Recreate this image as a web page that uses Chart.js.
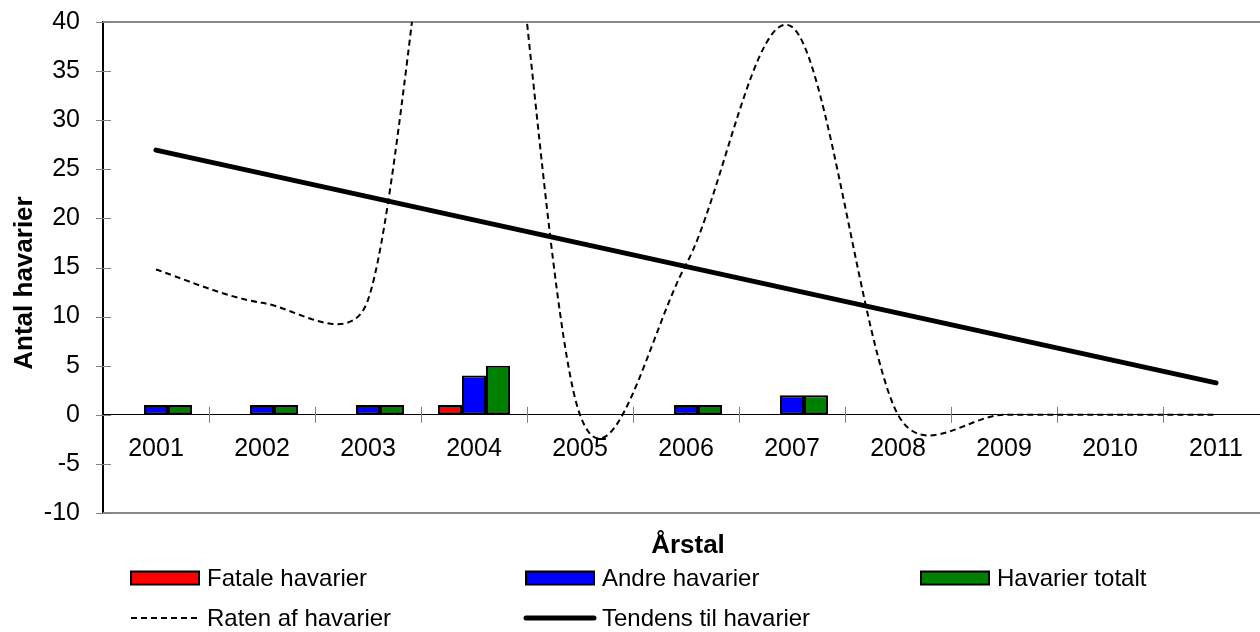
<!DOCTYPE html>
<html>
<head>
<meta charset="utf-8">
<title>Havarier 2001-2011</title>
<script src="https://cdn.jsdelivr.net/npm/chart.js@4.4.0/dist/chart.umd.min.js"></script>
<style>
    html, body { margin: 0; padding: 0; overflow: hidden; background: #fff; }
    #wrap { width: 1270px; height: 632px; }
</style>
</head>
<body>
<div id="wrap"><canvas id="havariChart"></canvas></div>
<script>
const years = ['2001', '2002', '2003', '2004', '2005', '2006', '2007', '2008', '2009', '2010', '2011'];
const fatale = [0, 0, 0, 1, 0, 0, 0, 0, 0, 0, 0];
const andre = [1, 1, 1, 4, 0, 1, 2, 0, 0, 0, 0];
const totalt = [1, 1, 1, 5, 0, 1, 2, 0, 0, 0, 0];
const raten = [14.8, 11.4, 11.7, 74, 0, 15.3, 39.5, 0, 0, 0, 0];
// trend line: only the two end values, drawn straight with spanGaps
const tendens = [26.95, null, null, null, null, null, null, null, null, null, 3.25];

const yMin = -10;
const yMax = 40;
const yStep = 5;

const FONT = "'Liberation Sans', Arial, sans-serif";

// Excel style smoothing (1/6 tangents, capped at half the segment)
const excelSmooth = {
    id: 'excelSmooth',
    beforeDatasetDraw(chart, args) {
        const ds = chart.data.datasets[args.index];
        if (!ds.excelSmooth) return;
        const pts = args.meta.data;
        const dist = (a, b) => Math.hypot(b.x - a.x, b.y - a.y);
        for (let i = 0; i < pts.length - 1; i++) {
            const p0 = pts[i - 1] || pts[i];
            const p1 = pts[i];
            const p2 = pts[i + 1];
            const p3 = pts[i + 2] || pts[i + 1];
            const d02 = dist(p0, p2), d12 = dist(p1, p2), d13 = dist(p1, p3);
            const f1 = (d02 / 6 < d12 / 2) ? 1 / 6 : d12 / (2 * d02);
            const f2 = (d13 / 6 < d12 / 2) ? 1 / 6 : d12 / (2 * d13);
            p1.cp2x = p1.x + (p2.x - p0.x) * f1;
            p1.cp2y = p1.y + (p2.y - p0.y) * f1;
            p2.cp1x = p2.x - (p3.x - p1.x) * f2;
            p2.cp1y = p2.y - (p3.y - p1.y) * f2;
        }
        args.meta.dataset._pointsUpdated = true;
    }
};

// plot frame and the tick marks that cross the axes
const frame = {
    id: 'frame',
    beforeDatasetsDraw(chart) {
        const {ctx, chartArea: a, scales: {x, y}} = chart;
        ctx.save();
        ctx.strokeStyle = '#888';
        ctx.lineWidth = 2;
        ctx.beginPath();
        ctx.moveTo(a.left, a.top);
        ctx.lineTo(a.right, a.top);
        ctx.lineTo(a.right, a.bottom);
        ctx.lineTo(a.left, a.bottom);
        ctx.stroke();

        ctx.strokeStyle = '#808080';
        ctx.lineWidth = 1;
        ctx.beginPath();
        for (let v = yMin; v <= yMax; v += yStep) {
            const py = Math.round(y.getPixelForValue(v)) + 0.5;
            ctx.moveTo(a.left - 7, py);
            ctx.lineTo(a.left + 8, py);
        }
        const y0 = y.getPixelForValue(0);
        for (let i = 1; i <= years.length; i++) {
            const px = Math.round(x.getPixelForValue(i - 0.5)) + 0.5;
            ctx.moveTo(px, y0 - 8);
            ctx.lineTo(px, y0 + 8);
        }
        ctx.stroke();
        ctx.restore();
    }
};

// axis titles and the legend grid under the plot
const titlesAndLegend = {
    id: 'titlesAndLegend',
    afterDraw(chart) {
        const {ctx, chartArea: a} = chart;
        ctx.save();
        ctx.fillStyle = '#000';
        ctx.font = 'bold 26px ' + FONT;
        ctx.textAlign = 'center';
        ctx.textBaseline = 'alphabetic';
        ctx.fillText('Årstal', (a.left + a.right) / 2 + 2, 553);

        ctx.save();
        ctx.translate(32, 283);
        ctx.rotate(-Math.PI / 2);
        ctx.fillText('Antal havarier', 0, 0);
        ctx.restore();

        const cols = [131, 526, 921];
        const rows = [578, 618];
        const slots = [[0, 0], [1, 0], [2, 0], [0, 1], [1, 1]];
        ctx.font = '24px ' + FONT;
        ctx.textAlign = 'left';
        ctx.textBaseline = 'middle';
        chart.data.datasets.forEach((ds, i) => {
            const lx = cols[slots[i][0]];
            const ly = rows[slots[i][1]];
            if (ds.type === 'bar') {
                ctx.fillStyle = ds.backgroundColor;
                ctx.fillRect(lx, ly - 6.5, 68, 13);
                ctx.strokeStyle = ds.borderColor;
                ctx.lineWidth = 2;
                ctx.strokeRect(lx, ly - 6.5, 68, 13);
            } else {
                ctx.strokeStyle = ds.borderColor;
                ctx.lineWidth = ds.borderWidth;
                ctx.lineCap = ds.borderCapStyle || 'butt';
                ctx.setLineDash(ds.borderDash || []);
                ctx.beginPath();
                ctx.moveTo(lx, ly);
                ctx.lineTo(lx + 68, ly);
                ctx.stroke();
                ctx.setLineDash([]);
                ctx.lineCap = 'butt';
            }
            ctx.fillStyle = '#000';
            ctx.fillText(ds.label, lx + 76, ly + 1);
        });
        ctx.restore();
    }
};

const ctx = document.getElementById('havariChart').getContext('2d');
const havariChart = new Chart(ctx, {
    type: 'bar',
    data: {
        labels: years,
        datasets: [
            {
                type: 'bar',
                label: 'Fatale havarier',
                data: fatale,
                backgroundColor: '#FF0000',
                borderColor: '#000',
                borderWidth: 2,
                borderSkipped: false,
                order: 2
            },
            {
                type: 'bar',
                label: 'Andre havarier',
                data: andre,
                backgroundColor: '#0000FF',
                borderColor: '#000',
                borderWidth: 2,
                borderSkipped: false,
                order: 2
            },
            {
                type: 'bar',
                label: 'Havarier totalt',
                data: totalt,
                backgroundColor: '#008000',
                borderColor: '#000',
                borderWidth: 2,
                borderSkipped: false,
                order: 2
            },
            {
                type: 'line',
                label: 'Raten af havarier',
                data: raten,
                borderColor: '#000',
                borderWidth: 2,
                borderDash: [6, 4],
                pointRadius: 0,
                tension: 0.4,
                excelSmooth: true,
                order: 1
            },
            {
                type: 'line',
                label: 'Tendens til havarier',
                data: tendens,
                borderColor: '#000',
                borderWidth: 5,
                borderCapStyle: 'round',
                pointRadius: 0,
                spanGaps: true,
                tension: 0,
                order: 1
            }
        ]
    },
    options: {
        responsive: true,
        maintainAspectRatio: false,
        animation: false,
        layout: {
            padding: {top: 22, right: 1, bottom: 119, left: 0}
        },
        datasets: {
            bar: {
                categoryPercentage: 0.68,
                barPercentage: 1.0
            }
        },
        plugins: {
            legend: {display: false},
            tooltip: {enabled: false}
        },
        scales: {
            x: {
                position: {y: 0},
                offset: true,
                grid: {display: true, drawOnChartArea: false, drawTicks: false},
                border: {display: true, color: '#000', width: 1},
                ticks: {
                    color: '#000',
                    padding: 19,
                    maxRotation: 0,
                    autoSkip: false,
                    font: {family: FONT, size: 25}
                }
            },
            y: {
                min: yMin,
                max: yMax,
                grid: {display: true, drawOnChartArea: false, drawTicks: false},
                border: {display: true, color: '#000', width: 2},
                ticks: {
                    stepSize: yStep,
                    color: '#000',
                    padding: 23,
                    font: {family: FONT, size: 25}
                },
                afterFit(scale) {
                    scale.width = 103;
                    scale.paddingTop = 0;
                    scale.paddingBottom = 0;
                }
            }
        }
    },
    plugins: [excelSmooth, frame, titlesAndLegend]
});
</script>
</body>
</html>
